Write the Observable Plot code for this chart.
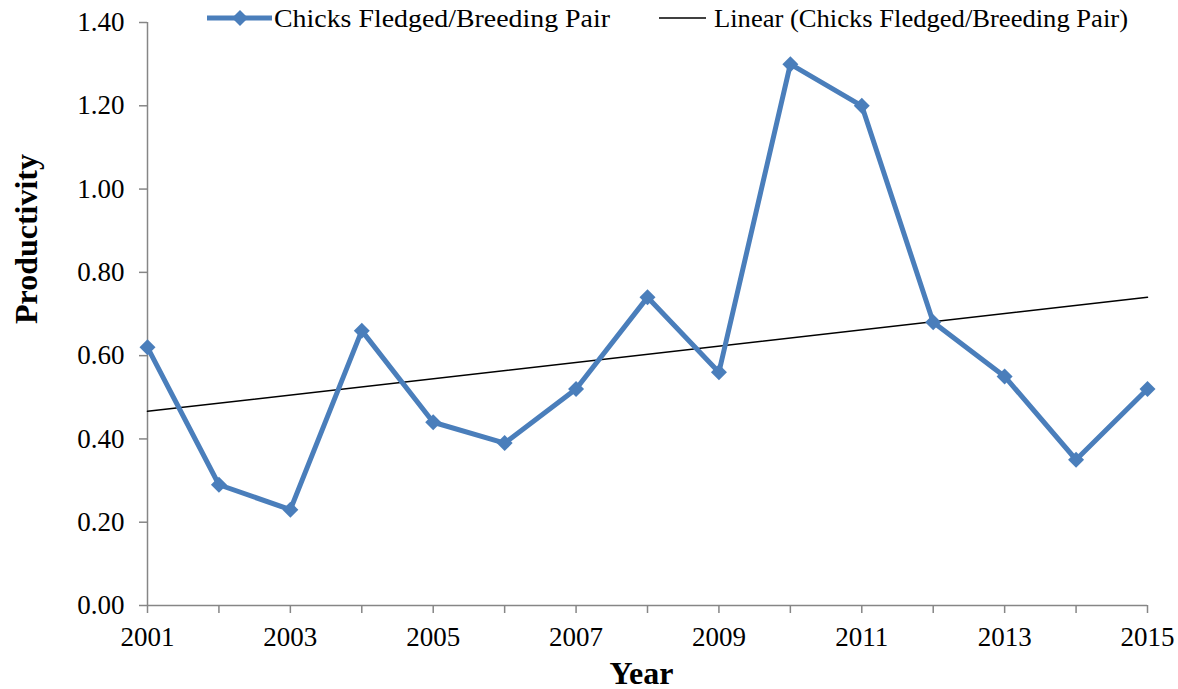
<!DOCTYPE html>
<html><head><meta charset="utf-8">
<script src="https://cdn.jsdelivr.net/npm/d3@7"></script>
<script src="https://cdn.jsdelivr.net/npm/@observablehq/plot@0.6"></script>
<style>
body{margin:0;background:#fff}
#wrap{position:relative;width:1178px;height:689px}
#legend{position:absolute;left:0;top:0;width:1178px;height:40px;pointer-events:none}
#legend text{font-family:"Liberation Serif","Times New Roman",serif}
</style>
</head><body>
<div id="wrap"><svg id="legend" width="1178" height="40"></svg></div>
<script>
const years = [2001,2002,2003,2004,2005,2006,2007,2008,2009,2010,2011,2012,2013,2014,2015];
const productivity = [0.62,0.29,0.23,0.66,0.44,0.39,0.52,0.74,0.56,1.30,1.20,0.68,0.55,0.35,0.52];
const yTicks = [0,0.2,0.4,0.6,0.8,1.0,1.2,1.4];
const xTickLabels = [2001,2003,2005,2007,2009,2011,2013,2015];
const seriesName = "Chicks Fledged/Breeding Pair";
const trendName = "Linear (Chicks Fledged/Breeding Pair)";
const yTitle = "Productivity";
const xTitle = "Year";

const data = years.map((year, i) => ({year, value: productivity[i]}));
const font = "Liberation Serif, Times New Roman, serif";
const axisColor = "#868686";
const blue = "#4a7ebb";

const chart = Plot.plot({
  width: 1178, height: 689,
  marginLeft: 147, marginRight: 31, marginTop: 22, marginBottom: 84,
  style: {fontFamily: font, fontSize: "27px", background: "#fff", color: "#000", overflow: "visible"},
  x: {domain: [2001, 2015]},
  y: {domain: [0, 1.4]},
  marks: [
    Plot.ruleX([2001], {stroke: axisColor, strokeWidth: 1.5}),
    Plot.ruleY([0], {stroke: axisColor, strokeWidth: 1.5}),
    Plot.axisY({ticks: yTicks, tickSize: 8, tickPadding: 15, stroke: axisColor, strokeWidth: 1.5,
      tickFormat: d => d.toFixed(2), label: null, fill: "#000", fontSize: 27}),
    Plot.axisX({ticks: years, tickSize: 8, tickPadding: 13, stroke: axisColor, strokeWidth: 1.5,
      tickFormat: d => xTickLabels.includes(d) ? String(d) : "", label: null, fill: "#000", fontSize: 27}),
    Plot.linearRegressionY(data, {x: "year", y: "value", stroke: "#000", strokeWidth: 1.5, ci: 0}),
    Plot.line(data, {x: "year", y: "value", stroke: blue, strokeWidth: 5}),
    Plot.dot(data, {x: "year", y: "value", symbol: "diamond2", fill: blue, stroke: "none", r: 7.2}),
    Plot.text([yTitle], {frameAnchor: "left", dx: -121, dy: -75, rotate: -90, text: d => d,
      textAnchor: "middle", fontWeight: "bold", fontSize: 32, fill: "#000"}),
    Plot.text([xTitle], {frameAnchor: "bottom", dx: -6, dy: 78, text: d => d,
      fontWeight: "bold", fontSize: 32, fill: "#000"})
  ]
});
const wrap = document.getElementById("wrap");
wrap.insertBefore(chart, wrap.firstChild);

// legend
const lg = d3.select("#legend");
const ly = 18;
lg.append("line").attr("x1", 207).attr("x2", 272).attr("y1", ly).attr("y2", ly)
  .attr("stroke", blue).attr("stroke-width", 5);
lg.append("path").attr("d", d3.symbol(d3.symbolDiamond2, Math.PI * 7.2 * 7.2)())
  .attr("transform", `translate(240,${ly})`).attr("fill", blue);
lg.append("text").attr("x", 274).attr("y", ly).attr("dy", "0.35em").attr("font-size", 26)
  .attr("font-family", font)
  .attr("textLength", 336).attr("lengthAdjust", "spacingAndGlyphs")
  .text(seriesName);
lg.append("line").attr("x1", 659).attr("x2", 706).attr("y1", ly).attr("y2", ly)
  .attr("stroke", "#000").attr("stroke-width", 1.5);
lg.append("text").attr("x", 714).attr("y", ly).attr("dy", "0.35em").attr("font-size", 26)
  .attr("font-family", font)
  .attr("textLength", 414).attr("lengthAdjust", "spacingAndGlyphs")
  .text(trendName);
</script>
</body></html>
